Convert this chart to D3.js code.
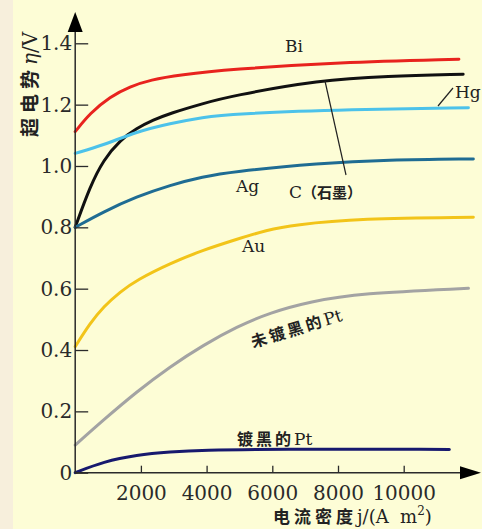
<!DOCTYPE html>
<html><head><meta charset="utf-8">
<script src="https://cdn.jsdelivr.net/npm/d3@7/dist/d3.min.js"></script>
<style>html,body{margin:0;padding:0;background:#fdfdd6;}svg{display:block;}</style>
</head><body>
<svg id="c" width="482" height="529"></svg>
<script>
const xTicks = [2000, 4000, 6000, 8000, 10000];
const yTicks = [0, 0.2, 0.4, 0.6, 0.8, 1.0, 1.2, 1.4];
const yTickLabels = ["0", "0.2", "0.4", "0.6", "0.8", "1.0", "1.2", "1.4"];

const seriesNames = ["Bi", "C", "Hg", "Ag", "Au", "未镀黑的Pt", "镀黑的Pt"];
const seriesColors = ["#e8231e", "#111111", "#4cc2ea", "#1f6c93", "#f2c419", "#a3a3a3", "#17196e"];
const biJ = [0, 450, 1060, 1670, 2290, 3190, 4730, 8000, 11680];
const biV = [1.112, 1.172, 1.226, 1.259, 1.281, 1.297, 1.315, 1.338, 1.348];
const cJ = [0, 450, 860, 1370, 1870, 2380, 2890, 3900, 4730, 7450, 9480, 11810];
const cV = [0.8, 0.933, 1.020, 1.085, 1.123, 1.150, 1.172, 1.204, 1.228, 1.280, 1.293, 1.299];
const hgJ = [0, 860, 1870, 2890, 3900, 4730, 8460, 11970];
const hgV = [1.041, 1.068, 1.112, 1.139, 1.159, 1.170, 1.185, 1.190];
const agJ = [0, 860, 1870, 2890, 3900, 4730, 7450, 9480, 12120];
const agV = [0.8, 0.851, 0.900, 0.938, 0.965, 0.981, 1.009, 1.020, 1.023];
const auJ = [0, 450, 860, 1370, 1870, 2890, 3900, 4920, 5830, 6640, 8670, 12120];
const auV = [0.411, 0.487, 0.541, 0.590, 0.628, 0.683, 0.726, 0.761, 0.791, 0.808, 0.829, 0.833];
const ptJ = [0, 860, 1870, 2890, 3900, 4920, 5930, 7160, 8670, 11970];
const ptV = [0.09, 0.172, 0.264, 0.346, 0.416, 0.476, 0.522, 0.558, 0.585, 0.601];
const ptbJ = [0, 860, 1870, 2890, 3900, 5930, 11390];
const ptbV = [0, 0.036, 0.058, 0.068, 0.074, 0.077, 0.076];

const seriesJ = [biJ, cJ, hgJ, agJ, auJ, ptJ, ptbJ];
const seriesV = [biV, cV, hgV, agV, auV, ptV, ptbV];

const svg = d3.select("#c");
svg.append("rect").attr("x", 0).attr("y", 0).attr("width", 482).attr("height", 529).attr("fill", "#fdfdd6");
svg.append("rect").attr("x", 0).attr("y", 0).attr("width", 13).attr("height", 529).attr("fill", "#f7efdc");

const x = d3.scaleLinear().domain([0, 10000]).range([75.2, 403.7]);
const y = d3.scaleLinear().domain([0, 1.4]).range([472.7, 43.3]);

const serif = "'DejaVu Serif', serif";
const cjk = "'Noto Sans CJK SC', sans-serif";
const axisColor = "#2a2a2a";

// curves
const line = d3.line().x(d => x(d[0])).y(d => y(d[1])).curve(d3.curveBasis);
seriesNames.forEach((n, i) => {
  const pts = seriesJ[i].map((j, k) => [j, seriesV[i][k]]);
  svg.append("path").attr("d", line(pts)).attr("fill", "none")
    .attr("stroke", seriesColors[i]).attr("stroke-width", 3).attr("stroke-linecap", "round");
});

// axes
const yAxis = d3.axisLeft(y).tickValues(yTicks).tickSizeInner(-13).tickSizeOuter(0).tickPadding(3)
  .tickFormat((d, i) => yTickLabels[i]);
const gy = svg.append("g").attr("transform", `translate(${x(0)},0)`).call(yAxis);
gy.select(".domain").remove();
gy.selectAll(".tick line").attr("stroke", axisColor).attr("stroke-width", 1.3);
gy.selectAll(".tick text").attr("font-family", serif).attr("font-size", 20).attr("fill", "#2a2a2a");

const xAxis = d3.axisBottom(x).tickValues(xTicks).tickSizeInner(-7).tickSizeOuter(0).tickPadding(13)
  .tickFormat(d3.format("d"));
const gx = svg.append("g").attr("transform", `translate(0,${y(0)})`).call(xAxis);
gx.select(".domain").remove();
gx.selectAll(".tick line").attr("stroke", axisColor).attr("stroke-width", 1.3);
gx.selectAll(".tick text").attr("font-family", serif).attr("font-size", 20).attr("fill", "#2a2a2a");

// axis lines with arrows
const ox = x(0), oy = y(0);
svg.append("line").attr("x1", ox).attr("y1", oy).attr("x2", ox).attr("y2", 25).attr("stroke", axisColor).attr("stroke-width", 1.5);
svg.append("line").attr("x1", ox).attr("y1", oy).attr("x2", 465).attr("y2", oy).attr("stroke", axisColor).attr("stroke-width", 1.5);
svg.append("path").attr("d", `M${ox},12 L${ox - 7.5},32 L${ox + 7.5},32 Z`).attr("fill", "#000");
svg.append("path").attr("d", `M481,${oy} L460,${oy - 6.5} L460,${oy + 6.5} Z`).attr("fill", "#000");

// axis titles
const xt = svg.append("text").attr("x", 273).attr("y", 523).attr("fill", "#222");
xt.append("tspan").attr("font-family", cjk).attr("font-weight", "bold").attr("font-size", 17).attr("letter-spacing", 4).text("电流密度");
xt.append("tspan").attr("font-family", serif).attr("font-size", 18).text("j/(A\u00a0\u00a0m");
xt.append("tspan").attr("font-family", serif).attr("font-size", 12).attr("dy", -8).text("2");
xt.append("tspan").attr("font-family", serif).attr("font-size", 18).attr("dy", 8).text(")");

const yt = svg.append("text").attr("transform", "translate(37,137) rotate(-90)").attr("fill", "#222");
yt.append("tspan").attr("font-family", cjk).attr("font-weight", "bold").attr("font-size", 19).attr("letter-spacing", 5).text("超电势");
yt.append("tspan").attr("font-family", serif).attr("font-style", "italic").attr("font-size", 20).text("η");
yt.append("tspan").attr("font-family", serif).attr("font-size", 20).text("/V");

// series labels
function lab(t, px, py, fam, size) {
  return svg.append("text").attr("x", px).attr("y", py).attr("font-family", fam)
    .attr("font-size", size).attr("fill", "#222").text(t);
}
lab("Bi", 285, 52, serif, 17);
lab("Hg", 455, 98, serif, 17);
lab("Ag", 236, 192, serif, 17);
lab("Au", 242, 252, serif, 17);
const ct = svg.append("text").attr("x", 289).attr("y", 198).attr("fill", "#222");
ct.append("tspan").attr("font-family", serif).attr("font-size", 17).text("C");
ct.append("tspan").attr("font-family", cjk).attr("font-weight", "bold").attr("font-size", 15).text("（石墨）");

svg.append("text").attr("transform", "translate(253,348) rotate(-17)").attr("fill", "#222")
  .call(t => {
    t.append("tspan").attr("font-family", cjk).attr("font-weight", "bold").attr("font-size", 16).attr("letter-spacing", 3).text("未镀黑的");
    t.append("tspan").attr("font-family", serif).attr("font-size", 17).text("Pt");
  });
svg.append("text").attr("x", 237).attr("y", 445).attr("fill", "#222")
  .call(t => {
    t.append("tspan").attr("font-family", cjk).attr("font-weight", "bold").attr("font-size", 16).attr("letter-spacing", 3).text("镀黑的");
    t.append("tspan").attr("font-family", serif).attr("font-size", 17).text("Pt");
  });

// leader lines
svg.append("line").attr("x1", 325).attr("y1", 81).attr("x2", 346).attr("y2", 175).attr("stroke", "#222").attr("stroke-width", 1.2);
svg.append("line").attr("x1", 438).attr("y1", 106).attr("x2", 453).attr("y2", 88).attr("stroke", "#222").attr("stroke-width", 1.2);
</script>
</body></html>
